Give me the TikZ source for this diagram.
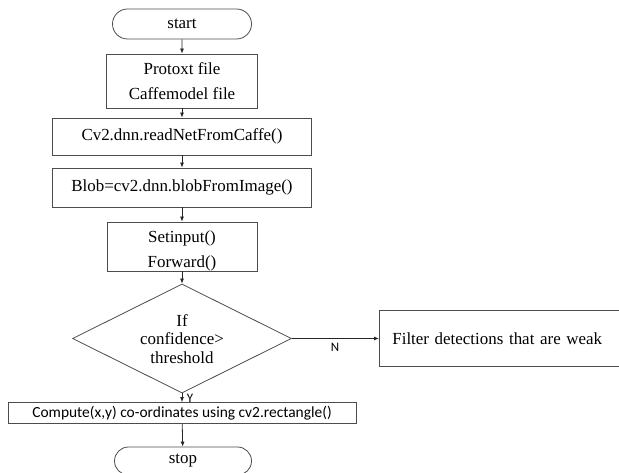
\documentclass[tikz,border=0pt]{standalone}
\usepackage{fontspec}
\setmainfont{Liberation Serif}
\newfontfamily\calibri{Carlito}
\usetikzlibrary{shapes.misc,shapes.geometric,arrows.meta}
\begin{document}
\begin{tikzpicture}[x=1bp,y=-1bp,
  every node/.style={font=\fontsize{17}{19}\selectfont},
  boxst/.style={draw=black!70,line width=0.8bp,rectangle,inner sep=0pt},
  term/.style={draw=black!70,line width=0.8bp,rounded rectangle,inner sep=0pt},
  arr/.style={draw=black!85,line width=0.8bp,-{Latex[length=5bp,width=4bp]}},
  lbl/.style={font=\calibri\fontsize{13}{15}\selectfont}]
\useasboundingbox (0,0) rectangle (619,473);
\node[term,minimum width=139bp,minimum height=30bp] (start) at (182,24) {start};
\node[boxst,minimum width=151bp,minimum height=54bp,align=center] (proto) at (182,81)
  {Protoxt file\\[6bp]Caffemodel file};
\node[boxst,minimum width=259bp,minimum height=37bp] (read) at (182,136.5) {Cv2.dnn.readNetFromCaffe()};
\node[boxst,minimum width=259bp,minimum height=39bp] (blob) at (182,187.5) {Blob=cv2.dnn.blobFromImage()};
\node[boxst,minimum width=150bp,minimum height=49bp] (setin) at (182,246.5) {};
\node (setint) at (182,238) {Setinput()};
\node (fwdt) at (182,263) {Forward()};
\node[draw=black!70,line width=0.8bp,diamond,minimum width=219bp,minimum height=109bp,inner sep=0pt] (dec) at (182,338.5) {};
\node[align=center,font=\fontsize{17}{18.5}\selectfont] (dect) at (182,339) {If\\confidence>\\threshold};
\node[boxst,anchor=west,minimum height=56bp,text width=235bp,inner xsep=13bp,align=left] (filt) at (379,338.5)
  {Filter detections that are weak};
\node[boxst,minimum width=348bp,minimum height=21bp,font=\calibri\fontsize{15.5}{18}\selectfont] (comp) at (182,413)
  {Compute(x,y) co-ordinates using cv2.rectangle()};
\node[term,minimum width=137bp,minimum height=28bp] (stop) at (183,461) {stop};
\draw[arr] (start) -- (proto);
\draw[arr] (proto) -- (read);
\draw[arr] (read) -- (blob);
\draw[arr] (blob) -- (setin);
\draw[arr] (setin) -- (dec);
\draw[arr] (dec) -- (comp);
\draw[arr] (comp) -- (stop);
\draw[arr] (dec.east) -- (filt.west);
\node[lbl] (nl) at (335,347) {N};
\node[lbl] (yl) at (190,398) {Y};
\end{tikzpicture}
\end{document}
